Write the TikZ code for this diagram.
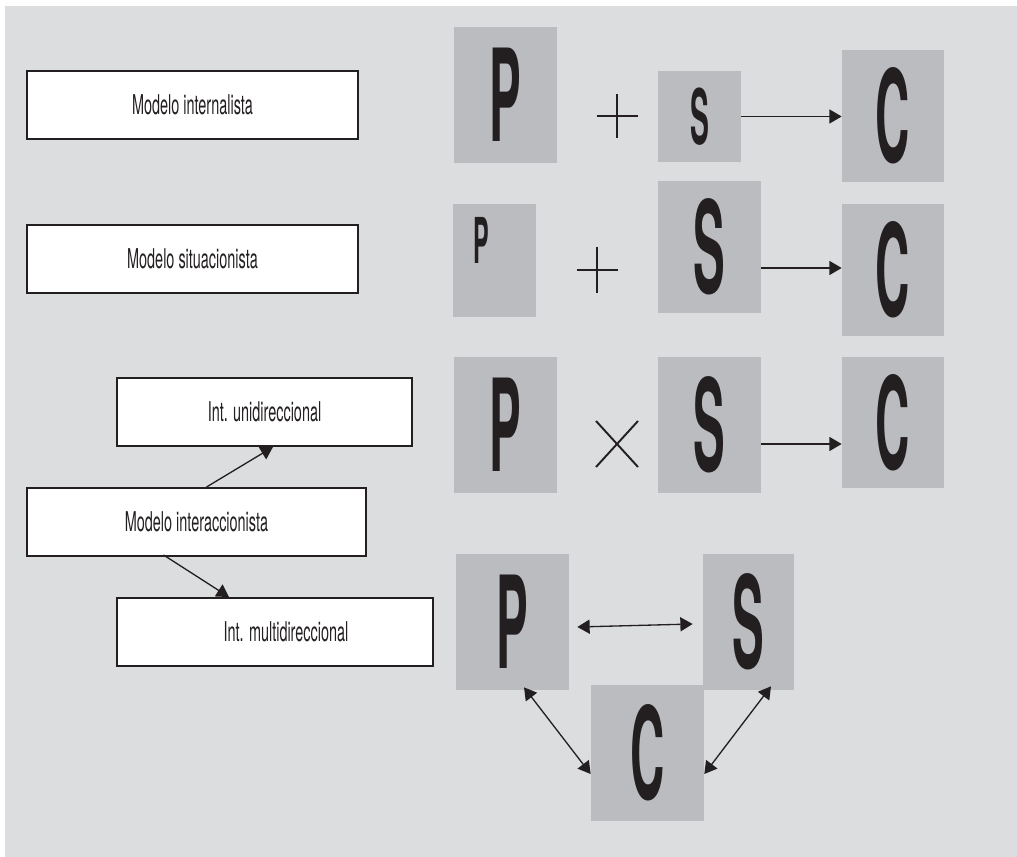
\documentclass[tikz,border=0pt]{standalone}
\usepackage{fontspec}
\usepackage{xcolor}
\usepackage{tikz}
\usetikzlibrary{calc,arrows.meta}
\newfontfamily\condfont[FakeStretch=0.53]{TeX Gyre Heros}
\newfontfamily\letterfont[FakeStretch=0.37]{TeX Gyre Heros}
\definecolor{fondo}{HTML}{DCDDDF}
\definecolor{caja}{HTML}{BBBCBF}
\definecolor{tinta}{HTML}{231F20}

\begin{document}
\begin{tikzpicture}[x=0.02cm,y=-0.02cm,
  modelo/.style={draw=tinta,line width=1.1pt,fill=white,inner sep=0pt,minimum height=1.36cm,text=tinta,font=\condfont\fontsize{15.5}{19}\selectfont},
  letra/.style={fill=caja,inner sep=0pt,text=tinta,font=\letterfont\bfseries\fontsize{73}{80}\selectfont},
  signo/.style={line width=1.1pt,draw=tinta},
  flecha/.style={-{Triangle[length=7pt,width=8pt]},line width=0.75pt,draw=tinta},
  doble/.style={{Triangle[length=7pt,width=8pt]}-{Triangle[length=7pt,width=8pt]},line width=0.75pt,draw=tinta}]
\useasboundingbox (0,0) rectangle (1017,857);
\fill[fondo] (5,6) rectangle (1017,857);
% modelos
\node[modelo,minimum width=6.62cm] (intern) at (192.5,105) {Modelo internalista};
\node[modelo,minimum width=6.62cm] (situ) at (192.5,259) {Modelo situacionista};
\node[modelo,minimum width=5.9cm] (uni) at (264.5,412) {Int. unidireccional};
\node[modelo,minimum width=6.78cm] (inter) at (196.5,522) {Modelo interaccionista};
\node[modelo,minimum width=6.32cm] (multi) at (275,632) {\hspace*{0.44cm}Int. multidireccional};
\draw[flecha] ($(inter.north)+(10,0)$) -- ($(uni.south)+(8.5,0)$);
\draw[flecha] ($(inter.south)+(-33,-2)$) -- ($(multi.north)+(-46,0)$);
% fila 1
\node[letra,minimum width=2.06cm,minimum height=2.72cm] (P1) at (505.5,95) {P};
\coordinate (mas1) at (617,116);
\draw[signo] ($(mas1)+(-20.5,0)$) -- ($(mas1)+(20.5,0)$) ($(mas1)+(0,-22)$) -- ($(mas1)+(0,22)$);
\node[letra,minimum width=1.66cm,minimum height=1.82cm,font=\letterfont\bfseries\fontsize{43.5}{50}\selectfont] (S1) at (699.5,116.5) {S};
\node[letra,minimum width=2.04cm,minimum height=2.64cm] (C1) at (893,116) {C};
\draw[flecha] (S1.east) -- (S1.east -| C1.west);
% fila 2
\node[letra,minimum width=1.66cm,minimum height=2.26cm] (P2) at (494.5,260.5) {};
\node[inner sep=0pt,text=tinta,font=\letterfont\bfseries\fontsize{36}{42}\selectfont] (P2l) at (481,240) {P};
\coordinate (mas2) at (597,270);
\draw[signo] ($(mas2)+(-20.5,0)$) -- ($(mas2)+(20.5,0)$) ($(mas2)+(0,-23)$) -- ($(mas2)+(0,23)$);
\node[letra,minimum width=2.06cm,minimum height=2.64cm] (S2) at (709.5,247) {S};
\node[letra,minimum width=2.04cm,minimum height=2.64cm] (C2) at (893,270) {C};
\coordinate (a2) at ($(S2.east)+(0,21)$);
\draw[flecha] (a2) -- (a2 -| C2.west);
% fila 3
\node[letra,minimum width=2.06cm,minimum height=2.72cm] (P3) at (505.5,425) {P};
\coordinate (por3) at (617,444);
\draw[signo] ($(por3)+(-21,-23)$) -- ($(por3)+(21,23)$) ($(por3)+(-21,23)$) -- ($(por3)+(21,-23)$);
\node[letra,minimum width=2.06cm,minimum height=2.72cm] (S3) at (709.5,425) {S};
\node[letra,minimum width=2.04cm,minimum height=2.62cm] (C3) at (893,422.5) {C};
\coordinate (a3) at ($(S3.east)+(0,19)$);
\draw[flecha] (a3) -- (a3 -| C3.west);
% fila 4
\node[letra,minimum width=2.26cm,minimum height=2.72cm] (P4) at (512.5,622) {P};
\node[letra,minimum width=1.82cm,minimum height=2.72cm] (S4) at (748.5,622) {S};
\node[letra,minimum width=2.26cm,minimum height=2.72cm] (C4) at (647.5,753) {C};
\draw[doble] ($(P4.east)+(8,5)$) -- ($(S4.west)+(-10,2)$);
\draw[doble] ($(P4.south)+(11.5,-3)$) -- ($(C4.west)+(0,21)$);
\draw[doble] ($(S4.south)+(22.5,-4)$) -- ($(C4.east)+(0,21)$);
\end{tikzpicture}
\end{document}
